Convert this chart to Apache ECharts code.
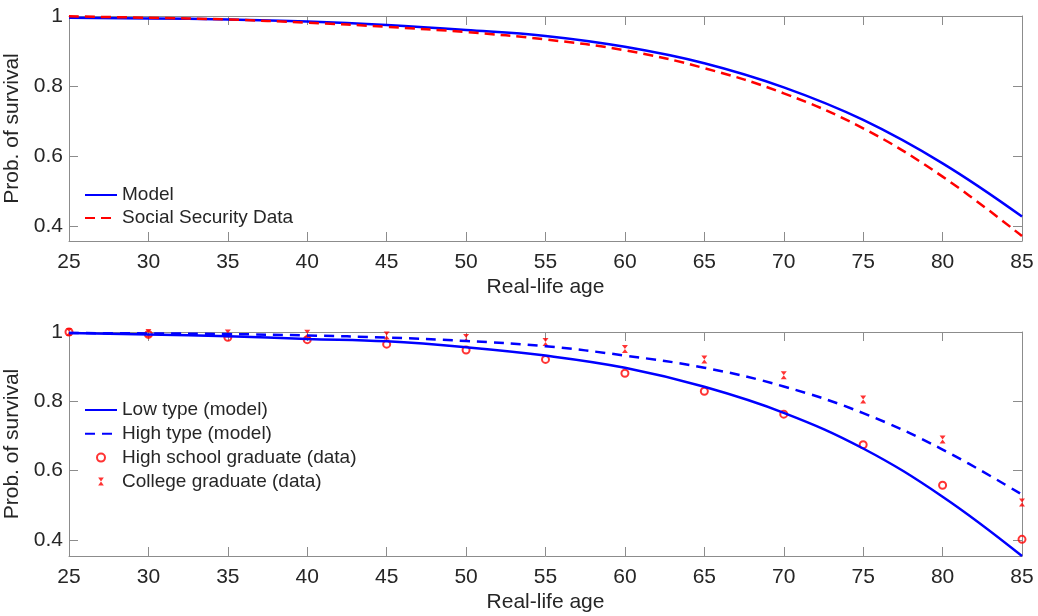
<!DOCTYPE html>
<html>
<head>
<meta charset="utf-8">
<title>Prob. of survival</title>
<script src="https://cdn.jsdelivr.net/npm/echarts@6/dist/echarts.min.js"></script>
<style>
  html, body { margin: 0; padding: 0; background: #fff; }
  #chart { width: 1038px; height: 616px; }
</style>
</head>
<body>
<div id="chart"></div>
<script>
// ages on the x axis
const ages = [25, 30, 35, 40, 45, 50, 55, 60, 65, 70, 75, 80, 85];
const yTicks = [0.4, 0.6, 0.8, 1];

// top panel
const model = [0.995, 0.993, 0.990, 0.984, 0.974, 0.960, 0.943, 0.912, 0.865, 0.796, 0.703, 0.579, 0.427];
const ssData = [0.999, 0.995, 0.990, 0.981, 0.969, 0.954, 0.933, 0.902, 0.851, 0.779, 0.679, 0.541, 0.371];

// bottom panel
const lowType = [0.997, 0.993, 0.988, 0.980, 0.973, 0.956, 0.932, 0.897, 0.842, 0.767, 0.664, 0.525, 0.354];
const highType = [0.997, 0.996, 0.994, 0.990, 0.984, 0.974, 0.959, 0.932, 0.897, 0.843, 0.766, 0.661, 0.531];
const hsGrad = [1.000, 0.993, 0.985, 0.978, 0.965, 0.948, 0.921, 0.881, 0.829, 0.763, 0.675, 0.558, 0.402];
const colGrad = [1.000, 0.997, 0.996, 0.995, 0.990, 0.983, 0.971, 0.951, 0.921, 0.875, 0.805, 0.690, 0.508];

const FONT = "'Liberation Sans', Arial, Helvetica, sans-serif";
const TEXT = "#262626";
const AXIS = "#8c8c8c";
const BLUE = "#0000ff";
const RED = "#ff0000";

const pairs = (ys) => ages.map((a, i) => [a, ys[i]]);

function bottomX(grid) {
  return {
    type: "value", gridIndex: grid, min: 25, max: 85, interval: 5,
    name: "Real-life age", nameLocation: "middle", nameGap: 36,
    nameTextStyle: { color: TEXT, fontSize: 21, fontFamily: FONT },
    axisLine: { show: true, lineStyle: { color: AXIS } },
    axisTick: { show: true, inside: true, length: 9, lineStyle: { color: AXIS } },
    axisLabel: { color: TEXT, fontSize: 21, fontFamily: FONT, margin: 11 },
    splitLine: { show: false },
  };
}
function topX(grid) {
  return {
    type: "value", gridIndex: grid, position: "top", min: 25, max: 85, interval: 5,
    axisLine: { show: true, lineStyle: { color: AXIS } },
    axisTick: { show: true, inside: true, length: 9, lineStyle: { color: AXIS } },
    axisLabel: { show: false },
    splitLine: { show: false },
  };
}
function leftY(grid, min) {
  return {
    type: "value", gridIndex: grid, min: min, max: 1,
    name: "Prob. of survival", nameLocation: "middle", nameGap: 40,
    nameTextStyle: { color: TEXT, fontSize: 21, fontFamily: FONT },
    axisLine: { show: true, lineStyle: { color: AXIS } },
    axisTick: { show: true, inside: true, length: 9, customValues: yTicks, lineStyle: { color: AXIS } },
    axisLabel: { color: TEXT, fontSize: 21, fontFamily: FONT, margin: 6, customValues: yTicks },
    splitLine: { show: false },
  };
}
function rightY(grid, min) {
  return {
    type: "value", gridIndex: grid, position: "right", min: min, max: 1,
    axisLine: { show: true, lineStyle: { color: AXIS } },
    axisTick: { show: true, inside: true, length: 9, customValues: yTicks, lineStyle: { color: AXIS } },
    axisLabel: { show: false },
    splitLine: { show: false },
  };
}

const legendText = { color: TEXT, fontSize: 19, fontFamily: FONT, lineHeight: 20 };
// line entries: hide the dot that echarts puts on the legend line
const lineItem = (name) => ({ name: name, itemStyle: { opacity: 0 } });

const option = {
  backgroundColor: "#fff",
  animation: false,
  grid: [
    { left: 69, right: 16, top: 16, height: 225, outerBoundsMode: "none" },
    { left: 69, right: 16, top: 332, height: 224, outerBoundsMode: "none" },
  ],
  xAxis: [bottomX(0), topX(0), bottomX(1), topX(1)],
  yAxis: [leftY(0, 0.357), rightY(0, 0.357), leftY(1, 0.354), rightY(1, 0.354)],
  legend: [
    {
      data: [lineItem("Model"), lineItem("Social Security Data")],
      orient: "vertical", left: 79, top: 180,
      itemWidth: 32, itemHeight: 8, itemGap: 3, itemTextGap: 4, textStyle: legendText,
    },
    {
      data: [
        lineItem("Low type (model)"),
        lineItem("High type (model)"),
        "High school graduate (data)",
        "College graduate (data)",
      ],
      orient: "vertical", left: 79, top: 395,
      itemWidth: 32, itemHeight: 8, itemGap: 3.8, itemTextGap: 4, textStyle: legendText,
    },
  ],
  series: [
    {
      name: "Model", type: "line", xAxisIndex: 0, yAxisIndex: 0,
      data: pairs(model), smooth: 0.4, symbol: "none",
      lineStyle: { color: BLUE, width: 2.5 }, itemStyle: { color: BLUE },
    },
    {
      name: "Social Security Data", type: "line", xAxisIndex: 0, yAxisIndex: 0,
      data: pairs(ssData), smooth: 0.4, symbol: "none",
      lineStyle: { color: RED, width: 2.5, type: [10, 6] }, itemStyle: { color: RED },
    },
    {
      name: "Low type (model)", type: "line", xAxisIndex: 2, yAxisIndex: 2,
      data: pairs(lowType), smooth: 0.4, symbol: "none",
      lineStyle: { color: BLUE, width: 2.5 }, itemStyle: { color: BLUE },
    },
    {
      name: "High type (model)", type: "line", xAxisIndex: 2, yAxisIndex: 2,
      data: pairs(highType), smooth: 0.4, symbol: "none",
      lineStyle: { color: BLUE, width: 2.5, type: [10, 7] }, itemStyle: { color: BLUE },
    },
    {
      name: "High school graduate (data)", type: "scatter", xAxisIndex: 2, yAxisIndex: 2,
      data: pairs(hsGrad), symbol: "circle", symbolSize: 7, clip: false,
      itemStyle: { color: "rgba(0,0,0,0)", borderColor: RED, borderWidth: 2 },
    },
    {
      name: "College graduate (data)", type: "scatter", xAxisIndex: 2, yAxisIndex: 2,
      // small hourglass like the matlab marker
      data: pairs(colGrad), symbol: "path://M0,0L10,0L0,14L10,14Z", symbolSize: [6, 8], clip: false,
      itemStyle: { color: RED },
    },
  ],
};

const myChart = echarts.init(document.getElementById("chart"));
myChart.setOption(option);
</script>
</body>
</html>
